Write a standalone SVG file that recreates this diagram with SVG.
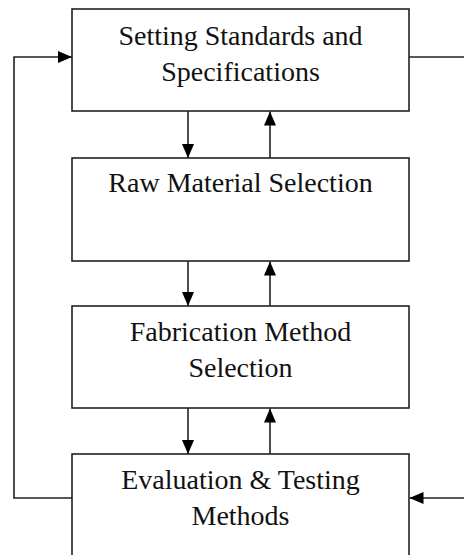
<svg xmlns="http://www.w3.org/2000/svg" width="464" height="555" viewBox="0 0 464 555">
<defs>
<marker id="ah" viewBox="0 0 14 12" refX="14" refY="6" markerWidth="14" markerHeight="12" markerUnits="userSpaceOnUse" orient="auto">
<path d="M0,0 L14,6 L0,12 Z" fill="#000"/>
</marker>
<style>
.box{fill:#fff;stroke:#222;stroke-width:1.6}
.lbl{font-family:'Liberation Serif','Times New Roman','DejaVu Serif',serif;font-size:28px;fill:#111;text-anchor:middle}
.c{fill:none;stroke:#222;stroke-width:1.6}
</style>
</defs>
<rect width="464" height="555" fill="#fff"/>
<g id="connectors">
<path class="c" d="M188,111 V158" marker-end="url(#ah)"/>
<path class="c" d="M270,158 V111.5" marker-end="url(#ah)"/>
<path class="c" d="M188,261 V306" marker-end="url(#ah)"/>
<path class="c" d="M270,306 V261.5" marker-end="url(#ah)"/>
<path class="c" d="M188,408 V454" marker-end="url(#ah)"/>
<path class="c" d="M270,454 V408.5" marker-end="url(#ah)"/>
<path class="c" d="M72,498 H14 V57 H72" marker-end="url(#ah)"/>
<path class="c" d="M409,57 H464"/>
<path class="c" d="M464,498 H409.5" marker-end="url(#ah)"/>
</g>
<g id="n1">
<rect class="box" x="72" y="9" width="337" height="102"/>
<text class="lbl" x="240.5" y="45">Setting Standards and</text>
<text class="lbl" x="240.5" y="81">Specifications</text>
</g>
<g id="n2">
<rect class="box" x="72" y="158" width="337" height="103"/>
<text class="lbl" x="240.5" y="192">Raw Material Selection</text>
</g>
<g id="n3">
<rect class="box" x="72" y="306" width="337" height="102"/>
<text class="lbl" x="240.5" y="341">Fabrication Method</text>
<text class="lbl" x="240.5" y="377">Selection</text>
</g>
<g id="n4">
<rect class="box" x="72" y="454" width="337" height="110"/>
<text class="lbl" x="240.5" y="489">Evaluation &amp; Testing</text>
<text class="lbl" x="240.5" y="525">Methods</text>
</g>
</svg>
